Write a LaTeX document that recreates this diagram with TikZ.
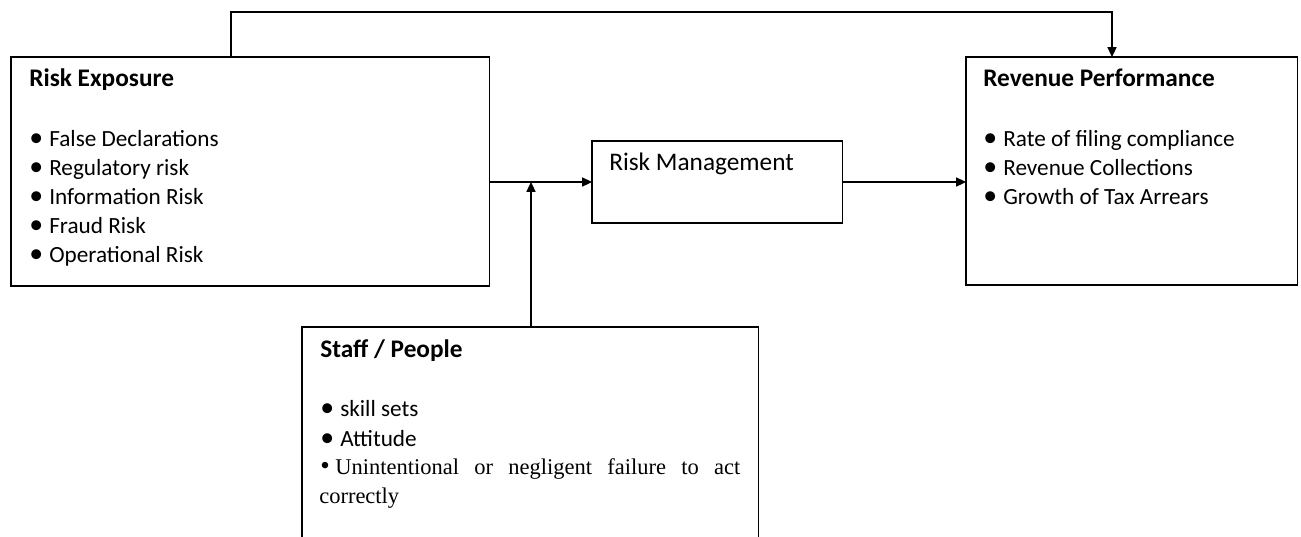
\documentclass[tikz,border=0pt]{standalone}
\usepackage{fontspec}
\setmainfont{Carlito}
\newfontfamily\bodyserif{Liberation Serif}
\usetikzlibrary{arrows.meta}

\newcommand\dotmark{\makebox[0.5cm][l]{\scalebox{1.2}{•}}}

\tikzset{
  box/.style={draw, line width=0.8pt, inner sep=0pt, outer sep=0pt, anchor=north west},
  head/.style={anchor=base west, inner sep=0pt, font=\fontsize{18}{21}\selectfont\bfseries},
  item/.style={anchor=base west, inner sep=0pt, font=\fontsize{16.5}{19}\selectfont},
  prose/.style={anchor=base west, inner sep=0pt, font=\bodyserif\fontsize{16}{19}\selectfont},
  arr/.style={line width=0.8pt, -{Triangle[length=7pt,width=6.5pt]}}
}

\begin{document}
\begin{tikzpicture}[x=0.025cm, y=-0.025cm]
\clip (0,0) rectangle (1301,537);
\fill[white] (0,0) rectangle (1301,537);

% boxes
\node[box, minimum width=11.95cm, minimum height=5.725cm] (expo) at (11,57) {};
\node[box, minimum width=8.275cm, minimum height=5.7cm] (perf) at (966,57) {};
\node[box, minimum width=6.25cm, minimum height=2.05cm] (mgmt) at (592,141) {};
\node[box, minimum width=11.4cm, minimum height=6cm] (staff) at (302,327) {};

% risk exposure
\node[head] (expoT) at (29,87) {Risk Exposure};
\foreach \t [count=\i from 0] in {False Declarations, Regulatory risk, Information Risk, Fraud Risk, Operational Risk}
  \node[item] (expo\i) at (29,147+29*\i) {\dotmark\t};

% revenue performance
\node[head] (perfT) at (983,87) {Revenue Performance};
\foreach \t [count=\i from 0] in {Rate of filing compliance, Revenue Collections, Growth of Tax Arrears}
  \node[item] (perf\i) at (983,147+29*\i) {\dotmark\t};

% risk management
\node[item, font=\fontsize{18}{21}\selectfont] (mgmtT) at (609,171) {Risk Management};

% staff / people
\node[head] (staffT) at (320,357) {Staff / People};
\node[item] (staff0) at (320,416) {\dotmark skill sets};
\node[item] (staff1) at (320,446) {\dotmark Attitude};
\node[prose] (staff2) at (320,474)
  {\hbox to 10.5cm{\scalebox{1.2}{•}\ Unintentional\hfill or\hfill negligent\hfill failure\hfill to\hfill act}};
\node[prose] (staff3) at (319,503) {correctly};

% connectors
\coordinate (upL) at (231,12);
\coordinate (upR) at (1112,12);
\coordinate (join) at (531,182);
\draw[arr] (expo.north -| upL) -- (upL) -- (upR) -- (perf.north -| upR);
\draw[arr] (expo.east |- mgmt.west) -- (mgmt.west);
\draw[arr] (mgmt.east) -- (perf.west |- mgmt.east);
\draw[arr] (staff.north -| join) -- (join);
\end{tikzpicture}
\end{document}
